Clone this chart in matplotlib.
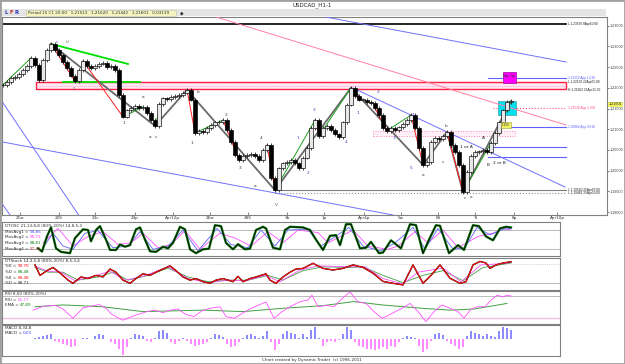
import matplotlib
matplotlib.use("Agg")
import matplotlib.pyplot as plt
import numpy as np
from matplotlib.patches import Rectangle

# ---------------- data ----------------
closes = [1.2207, 1.2214, 1.2224, 1.2226, 1.2233, 1.2243, 1.2253, 1.2272, 1.2255, 1.2219,
          1.2267, 1.2291, 1.2306, 1.2291, 1.2279, 1.2262, 1.2248, 1.2229, 1.2216, 1.2243,
          1.2265, 1.2253, 1.2248, 1.2253, 1.2258, 1.2260, 1.2250, 1.2253, 1.2243, 1.2183,
          1.2130, 1.2146, 1.2151, 1.2156, 1.2151, 1.2154, 1.2139, 1.2122, 1.2108, 1.2161,
          1.2175, 1.2173, 1.2178, 1.2180, 1.2183, 1.2188, 1.2195, 1.2171, 1.2091, 1.2096,
          1.2093, 1.2103, 1.2110, 1.2117, 1.2117, 1.2122, 1.2098, 1.2069, 1.2038, 1.2026,
          1.2035, 1.2038, 1.2040, 1.2035, 1.2026, 1.2050, 1.2062, 1.1982, 1.1953, 1.2006,
          1.2018, 1.2021, 1.2026, 1.2018, 1.2006, 1.2031, 1.2055, 1.2103, 1.2122, 1.2084,
          1.2103, 1.2108, 1.2098, 1.2088, 1.2081, 1.2117, 1.2159, 1.2200, 1.2180, 1.2171,
          1.2171, 1.2166, 1.2163, 1.2151, 1.2134, 1.2103, 1.2096, 1.2103, 1.2098, 1.2105,
          1.2113, 1.2122, 1.2134, 1.2103, 1.2055, 1.2014, 1.2021, 1.2069, 1.2079, 1.2076,
          1.2084, 1.2093, 1.2062, 1.2045, 1.2014, 1.1948, 1.1997, 1.2035, 1.2045, 1.2047,
          1.2050, 1.2045, 1.2067, 1.2091, 1.2117, 1.2146, 1.2166, 1.2168]

price_ticks = [1.190, 1.195, 1.200, 1.205, 1.210, 1.215, 1.220, 1.225, 1.230, 1.235]
last_price = 1.21601

date_pos = [4.25, 14, 23.1, 32.9, 42.4, 51.75, 61.25, 71, 80.25, 90.25, 99.4, 108.75, 118.1, 127.75, 138.5]
date_labels = ["21w", "22S", "23c", "24p", "Apr12p", "26w", "28S", "3b", "1p", "Apr4p", "5w", "6S", "7t", "8p", "Apr10p"]

# swing pivots (bar indices into closes)
zigzag_bars = [12, 38, 46, 68, 87, 105, 111, 115, 127]
red_swings = [(12, 18), (20, 30), (46, 48), (55, 59), (66, 68), (78, 79), (87, 89), (93, 96), (102, 105), (111, 115)]
green_swings = [(0, 7), (30, 35), (38, 40), (48, 55), (68, 78), (79, 87), (97, 102), (115, 122)]

# horizontal levels (price, start bar, label, colour, style)
levels = [
    (1.23530, 0.0, "L 1.23530 8Apr10:00", "black", "-"),
    (1.22240, 121.25, "1.22222 App 1.618", "#6060ff", "-"),
    (1.21510, 122.5, "1.21536 App 1.000", "#ff5080", ":"),
    (1.21050, 123.75, "1.20864 App 0.618", "#6060ff", "-"),
    (1.20580, 121.25, "", "#6060ff", "-"),
    (1.20330, 121.25, "", "#6060ff", "-"),
    (1.19530, 68.0, "L 1.19540 25Apr07:00", "#808080", "-"),
    (1.19460, 68.0, "L 1.19481 25Apr10:00", "#909090", ":"),
]
zone_lo, zone_hi = 1.21962, 1.22130
zone_labels = ["L 1.22130 22Apr05:00", "H 1.21962 21Apr11:00"]

# diagonal trend lines: (bar0, price0, bar1, price1, colour, width)
trend_lines = [
    (79.25, 1.23735, 140.75, 1.22624, "#7070ff", 0.7),
    (0.0, 1.20690, 97.5, 1.18929, "#7070ff", 0.7),
    (0.0, 1.21634, 19.25, 1.18880, "#7070ff", 0.7),
    (0.0, 1.19170, 1.75, 1.18929, "#7070ff", 0.7),
    (87.5, 1.21995, 140.5, 1.19605, "#7070ff", 0.7),
    (50.0, 1.23807, 140.75, 1.21102, "#ff80a0", 0.7),
    (12.0, 1.23060, 31.25, 1.22576, "#00e000", 1.3),
    (15.0, 1.22140, 34.25, 1.22140, "#00e000", 1.3),
]

wave_labels = [
    (13.5, 1.2311, "c", "#606060"), (16.25, 1.2311, "IV", "#909060"),
    (17.75, 1.2197, "1", "#606060"), (35.0, 1.2178, "a", "#404040"),
    (48.75, 1.2190, "b", "#404040"), (30.25, 1.2115, "1", "#404040"),
    (36.75, 1.2081, "a", "#404040"), (38.25, 1.2081, "c", "#404040"),
    (47.25, 1.2067, "1", "#404040"), (55.75, 1.2135, "2", "#404040"),
    (59.25, 1.2007, "3", "#404040"), (64.5, 1.2079, "4", "#404040"),
    (63.0, 1.1963, "a", "#404040"), (68.25, 1.1917, "V", "#606060"),
    (73.75, 1.2079, "1", "#4040c0"), (76.25, 1.1995, "2", "#4040c0"),
    (77.75, 1.2147, "3", "#4040c0"), (85.75, 1.2069, "4", "#4040c0"),
    (88.75, 1.2140, "1", "#4040c0"), (93.75, 1.2190, "2", "#4040c0"),
    (97.75, 1.2079, "3", "#4040c0"), (102.5, 1.2135, "4", "#4040c0"),
    (102.0, 1.2007, "5", "#4040c0"), (105.0, 1.1990, "a", "#404040"),
    (110.75, 1.2108, "b", "#404040"), (112.5, 1.2057, "b", "#404040"),
    (110.0, 1.2021, "c", "#404040"), (115.5, 1.1934, "c", "#404040"),
    (117.0, 1.1937, "e", "#404040"), (115.75, 1.2057, "1 or A", "#202020"),
    (120.0, 1.2079, "A", "#202020"), (121.25, 1.2014, "B", "#202020"),
    (124.0, 1.2019, "2 or B", "#202020"),
]

# DTOSC
osc_t = [8.75, 9.75, 11, 12, 13.25, 14.5, 16.75, 18, 20, 21.25, 22, 23.25, 24.25, 25.75, 26.75, 28.25, 29.25,
         30.5, 31.75, 33.25, 34.25, 35.5, 36.75, 38.25, 40, 41.25, 42.5, 44.25, 45.5, 46.75, 48.25, 50, 51.5,
         53, 54.5, 55.75, 57.5, 58.75, 60.5, 61.75, 63.25, 65, 65.75, 67.5, 69.25, 70.5, 71.75, 75, 76.75,
         78.25, 80, 81.75, 83.25, 84.25, 85.75, 87, 89.25, 90.75, 92, 94, 95, 97, 99.5, 101.75, 103.25, 105,
         106.5, 108.25, 109.25, 111.5, 113.75, 115.25, 117.5, 119, 120.75, 122.5, 124.25, 125.75, 127]
osc_fast = [23, 13, 60, 88, 23, 12, 8, 55, 82, 80, 45, 80, 92, 50, 18, 18, 35, 28, 33, 82, 88, 50, 14, 12, 28,
            23, 40, 90, 82, 20, 8, 20, 22, 95, 92, 40, 20, 36, 20, 22, 80, 90, 85, 25, 20, 80, 90, 88, 80, 50,
            18, 62, 64, 33, 98, 98, 23, 25, 43, 8, 10, 48, 23, 98, 95, 8, 50, 95, 93, 8, 33, 18, 95, 92, 60,
            48, 85, 90, 88]
osc_blue_t = [10, 12.5, 15, 17.5, 20.5, 23.75, 27.5, 31.25, 34.25, 37.5, 41.25, 45, 48.75, 53.5, 57, 61.25,
              64.5, 68, 71.25, 76.25, 79.5, 82.5, 86.5, 90, 94.5, 98, 102.5, 105.5, 108.75, 112.5, 115.5,
              118.5, 121.75, 125, 127]
osc_blue = [25, 70, 30, 20, 70, 78, 25, 30, 75, 20, 30, 80, 15, 85, 35, 25, 80, 30, 80, 82, 30, 55, 88, 30, 15,
            40, 88, 20, 85, 20, 25, 88, 65, 82, 85]
osc_mag_t = [10, 13.75, 17.5, 21.25, 25, 28.75, 32, 35, 38.75, 42, 45.5, 49.25, 54.25, 58, 62, 66.25, 70,
             73.75, 78.75, 81.25, 87.5, 91.25, 96.25, 98.75, 103, 106.25, 110, 113.75, 118.75, 122.5, 125, 127]
osc_mag = [40, 85, 30, 60, 75, 35, 40, 70, 25, 35, 78, 20, 70, 55, 30, 75, 40, 80, 72, 40, 80, 30, 20, 30, 75,
           40, 80, 25, 60, 70, 85, 80]

# DTStoch
sto_t = [8, 9.25, 11.25, 12.5, 14.5, 16.25, 17.5, 19.5, 21.25, 23.25, 25, 26.75, 28.25, 30, 31.75, 33.25, 35,
         36.75, 38.25, 40, 41.75, 43.25, 45, 46.75, 48.25, 50, 51.75, 53.25, 55, 57.5, 58.75, 60, 61.75, 63.25,
         65.75, 66.75, 68.25, 70, 71.75, 73.25, 75, 77.5, 80, 82.5, 85, 87.5, 90, 92.5, 95, 97.5, 100, 102.5,
         105, 107, 109.25, 111.75, 114.25, 115.75, 117.5, 119.25, 120.75, 121.75, 123.25, 125, 127]
sto_k = [78, 45, 62, 70, 50, 30, 20, 40, 35, 45, 40, 65, 55, 30, 20, 35, 50, 45, 55, 65, 75, 60, 40, 30, 35,
         25, 20, 30, 35, 25, 42, 25, 35, 40, 50, 30, 20, 40, 55, 65, 67, 83, 67, 62, 67, 78, 70, 52, 26, 20,
         15, 78, 20, 45, 78, 36, 20, 25, 78, 89, 84, 67, 78, 84, 88]
sto_slow_t = [8, 11.25, 15, 18.75, 23.75, 27.5, 31.25, 36.25, 41.25, 46.25, 51.25, 56.25, 61.25, 66.25, 70,
              75, 80, 86.25, 90, 95, 100, 105, 110, 115, 120, 125, 127]
sto_slow = [70, 55, 55, 30, 40, 55, 30, 45, 68, 40, 25, 30, 30, 45, 30, 60, 72, 70, 72, 45, 22, 45, 60, 28, 70,
            80, 84]
sto_mid_t = [8, 11.25, 14.5, 18, 22.5, 26.75, 30.5, 35, 41.25, 46.25, 51.25, 56.25, 60.75, 65.5, 69.25, 74.25,
             78.75, 86.25, 90.5, 95, 100, 103.75, 110, 114.5, 119.5, 125, 127]
sto_mid = [74, 58, 55, 28, 42, 58, 30, 42, 72, 35, 22, 30, 28, 45, 25, 62, 75, 72, 72, 35, 18, 55, 68, 25, 78,
           82, 86]

# RSI
rsi_t = [7.5, 10, 13, 15, 17.5, 20, 24, 26, 27, 29, 30, 33, 36, 38, 40, 41.75, 43.75, 45.75, 47.75, 49.75,
         51.75, 54.25, 55.75, 57.75, 59.75, 61.75, 63.75, 65.75, 67.75, 69.75, 71.75, 74.25, 76.25, 77.25,
         78.75, 80.75, 82.75, 84.75, 86.75, 88.75, 90.75, 92.75, 94.75, 97.25, 99.75, 101.75, 103.75, 105.75,
         107.75, 109.75, 111.75, 113.75, 115.25, 116.75, 118.5, 120.5, 122, 123.5, 125, 126, 127]
rsi_v = [42, 52, 55, 45, 20, 48, 57, 45, 32, 20, 15, 28, 38, 42, 35, 42, 45, 30, 25, 40, 47, 51, 25, 20, 33, 45,
         55, 64, 20, 38, 51, 65, 69, 82, 51, 55, 51, 73, 91, 64, 60, 38, 20, 33, 47, 60, 38, 11, 38, 56, 47, 38,
         20, 42, 51, 51, 69, 82, 78, 82, 80]
ema_t = [8, 15, 25, 35, 50, 60, 70, 80, 87.75, 94.75, 104.75, 111.75, 117.75, 126]
ema_v = [51, 56, 51, 38, 42, 38, 47, 54, 65, 56, 47, 42, 45, 60]

# MACD histogram (bars 7..127)
macd_start = 7
macd_hist = [0, 5, 8, 10, 12, 15, -5, -10, -15, -18, -25, -20, 0, 5, 3, 0, 10, 15, 12, 2,
             -8, -15, -30, -50, -25, 5, 15, 12, 10, -5, -8, 5, 25, 30, 20, -10, -15, -5, 5, -5,
             -15, -20, -18, -15, -8, 5, 15, 12, 8, -15, -25, -20, -8, 3, 12, 15, 10, 5, 10, 25,
             -10, -35, -15, 15, 25, 20, 15, 5, 15, 8, 30, 40, 5, -20, -8, -5, -10, -3, 15, 40,
             30, -10, -20, -25, -30, -30, -35, -30, -25, -30, -20, -25, -10, 5, 10, 8, 5, -20, -40, -30,
             -5, 15, 20, 12, -5, -15, -20, -30, -25, 10, 25, 20, 15, 10, 15, 10, 8, 25, 40, 35, 30]

# ---------------- figure ----------------
W, H = 625, 364
plt.rcParams["font.family"] = ["DejaVu Sans"]
fig = plt.figure(figsize=(W / 100, H / 100), dpi=100)
fig.patch.set_facecolor("white")
FS = 3.0
DARK = "#303030"
NARROW = ["Liberation Sans", "DejaVu Sans"]


def axes_px(x0, y0, x1, y1):
    return fig.add_axes([x0 / W, 1 - y1 / H, (x1 - x0) / W, (y1 - y0) / H])


def style_panel(a, color="#808080"):
    for s in a.spines.values():
        s.set_color(color)
        s.set_linewidth(0.8)
    a.set_xticks([])
    a.set_yticks([])


def label_pair(a, x, y, lab, val, col):
    t1 = a.text(x, y, lab, transform=a.transAxes, fontsize=FS, color=DARK, va="top", ha="left")
    a.annotate(val, xy=(1, 0), xycoords=t1, xytext=(0.6, 0), textcoords="offset points",
               fontsize=FS, color=col, va="bottom", ha="left")


# background gray frame
fig.add_artist(Rectangle((0, 0), 1, 1, transform=fig.transFigure, fill=False, ec="#a0a0a0", lw=2))
fig.text(312 / W, 1 - 5 / H, "USDCAD_H1-1", ha="center", va="center", fontsize=4.0, color="#202020")
# toolbar band
fig.add_artist(Rectangle((2 / W, 1 - 16 / H), 604 / W, 6.5 / H, transform=fig.transFigure,
                         fc="#e4e4e4", ec="none"))
for xx, ch, col in [(6, "L", "#3030c0"), (11, "F", "#c03030"), (17, "R", "#3030c0")]:
    fig.text(xx / W, 1 - 12.8 / H, ch, ha="center", va="center", fontsize=3.8, color=col, weight="bold")
fig.add_artist(Rectangle((26 / W, 1 - 15.5 / H), 150 / W, 5.5 / H, transform=fig.transFigure,
                         fc="#f4f4c0", ec="#c0c0a0", lw=0.4))
fig.text(28 / W, 1 - 12.8 / H, "Period 15 C1 20:00   1,21513   1,21620   1,21442   1,21601   0,03139",
         ha="left", va="center", fontsize=3.0, color=DARK)
fig.text(182 / W, 1 - 12.8 / H, "\u25c6", ha="center", va="center", fontsize=3.3, color=DARK)

# ---------------- main price panel ----------------
ax = axes_px(2, 17, 607, 215)
ax.set_xlim(-0.25, 151.0)
ax.set_ylim(1.18929, 1.23710)
ax.set_facecolor("white")
for s in ax.spines.values():
    s.set_color("#808080")
    s.set_linewidth(0.8)

c = np.array(closes)
o = np.r_[c[0], c[:-1]]
t = np.arange(len(c))

RFS = 2.3
# levels & zones (under candles)
for lvl, x0, lab, col, ls in levels:
    lw = 1.2 if col == "black" else 0.8
    ax.plot([x0, 140.75], [lvl, lvl], color=col, lw=lw, ls=ls, zorder=2)
    if lab:
        ax.text(141.3, lvl, lab, fontsize=RFS, family=NARROW,
                color=("#202020" if col in ("black", "#808080", "#909090") else col),
                va="center", ha="left")
ax.add_patch(Rectangle((8.25, zone_lo), 140.75 - 8.25, zone_hi - zone_lo, fc="#ffe8f4", ec="#ff2040",
                       lw=1.0, zorder=2))
ax.plot([8.25, 140.75], [(zone_lo + zone_hi) / 2] * 2, color="#ff80c0", lw=0.5, ls=":", zorder=2)
ax.text(141.3, zone_hi + 0.0001, zone_labels[0], fontsize=RFS, family=NARROW, color="#202020",
        va="center", ha="left")
ax.text(141.3, zone_lo - 0.0001, zone_labels[1], fontsize=RFS, family=NARROW, color="#202020",
        va="center", ha="left")
# small pink zone
ax.add_patch(Rectangle((92.5, 1.20837), 35.5, 1.2096 - 1.20837, fc="#fff0f8", ec="#ff80c0", lw=0.7,
                       ls=":", zorder=2))

# boxes
ax.add_patch(Rectangle((123.75, 1.21343), 4.5, 1.21681 - 1.21343, fc="#00e0f0", ec="#40a0a0", lw=0.5, zorder=2))
ax.add_patch(Rectangle((125, 1.22116), 3.25, 1.22382 - 1.22116, fc="#ff00ff", ec="#a000a0", lw=0.5, zorder=2))
ax.text(126.6, 1.2228, "Mgn Tgt", fontsize=2.2, color=DARK, ha="center", va="center", zorder=6)

for x0, p0, x1, p1, col, lw in trend_lines:
    ax.plot([x0, x1], [p0, p1], color=col, lw=lw, zorder=3)

# swing lines
ax.plot(zigzag_bars, c[zigzag_bars], color="#6a6a6a", lw=1.3, zorder=4)
for a_, b_ in red_swings:
    ax.plot([a_, b_], [c[a_], c[b_]], color="#ff2020", lw=0.7, zorder=4)
for a_, b_ in green_swings:
    ax.plot([a_, b_], [c[a_], c[b_]], color="#20a020", lw=0.7, zorder=4)

# candles
bot = np.minimum(o, c)
hgt = np.maximum(np.abs(c - o), 0.00008)
up = c >= o
ax.vlines(t, bot - 0.0004, bot + hgt + 0.0004, color="black", lw=0.5, zorder=5)
ax.bar(t, hgt, bottom=bot, width=0.8, color=np.where(up, "#e8e8e8", "black"), edgecolor="black",
       linewidth=0.45, zorder=5)

ax.add_patch(Rectangle((124.5, 1.21029), 2.5, 1.21174 - 1.21029, fc="#f0f060", ec="#a0a040", lw=0.4, zorder=6))
ax.text(125.75, 1.21101, "1.209", fontsize=2.0, color=DARK, ha="center", va="center", zorder=7)

for x_, p_, s_, col in wave_labels:
    ax.text(x_, p_, s_, fontsize=3.2, color=col, ha="center", va="center", zorder=7)

# axes ticks
ax.yaxis.tick_right()
ax.set_yticks(price_ticks)
ax.set_yticklabels(["%.5f" % v for v in price_ticks], fontsize=2.7, color="#404040", family=NARROW)
ax.tick_params(axis="y", length=1.2, width=0.5, pad=0.6, colors="#404040")
ax.set_xticks(date_pos)
ax.set_xticklabels(date_labels, fontsize=3.0, color=DARK)
ax.tick_params(axis="x", length=2, width=0.4, pad=0.8, direction="in", colors=DARK)
ax.text(151.45, last_price, "%.5f" % last_price, fontsize=2.7, color="#202020", ha="left", va="center",
        family=NARROW, bbox=dict(boxstyle="square,pad=0.12", fc="#f0f060", ec="none"), zorder=8, clip_on=False)

# ---------------- DTOSC ----------------
a1 = axes_px(2, 222, 560, 256)
a1.set_xlim(-0.25, 139.25)
a1.set_ylim(-0.8, 104.9)
style_panel(a1)
a1.axhline(80, color="#b0b0b0", lw=0.6)
a1.axhline(20, color="#b0b0b0", lw=0.6)
a1.plot(osc_mag_t, osc_mag, color="#ff50ff", lw=0.6)
a1.plot(osc_blue_t, osc_blue, color="#6060ff", lw=0.6)
a1.plot(osc_t, osc_fast, color="#108010", lw=1.7)
a1.plot(osc_t, osc_fast, color="black", lw=0.6)
a1.text(0.006, 0.95, "DTOSC 21,13,8,8 (80%-20%) 14,8,5,3", transform=a1.transAxes, fontsize=FS,
        color=DARK, va="top")
for i, (lab, val, col) in enumerate([("MovAvg1 =", "93,85", "#4040ff"), ("MovAvg2 =", "85,71", "#ff40ff"),
                                     ("MovAvg3 =", "88,81", "#108010"), ("MovAvg4 =", "87,42", "#c04040")]):
    label_pair(a1, 0.006, 0.77 - i * 0.165, lab, val, col)

# ---------------- DTStoch ----------------
a2 = axes_px(2, 258, 560, 290)
a2.set_xlim(-0.25, 139.25)
a2.set_ylim(-1.1, 99.8)
style_panel(a2)
a2.axhline(80, color="#b0b0b0", lw=0.5, ls=":")
a2.axhline(20, color="#b0b0b0", lw=0.6)
a2.plot(sto_slow_t, sto_slow, color="#40a040", lw=0.6)
a2.plot(sto_mid_t, sto_mid, color="#ff50ff", lw=0.6)
a2.plot(sto_t, sto_k, color="black", lw=1.0)
a2.plot(sto_t, sto_k, color="#ff1010", lw=0.8)
a2.text(0.006, 0.97, "DTStoch 14,3,5,8 (80%-20%) 8,5,3,4", transform=a2.transAxes, fontsize=FS,
        color=DARK, va="top")
for i, (lab, val, col) in enumerate([("%K =", "90,76", "#ff1010"), ("%D =", "88,48", "#108010"),
                                     ("%K =", "89,48", "#ff1010"), ("%D =", "88,71", DARK)]):
    label_pair(a2, 0.006, 0.80 - i * 0.175, lab, val, col)

# ---------------- RSI ----------------
a3 = axes_px(2, 291, 560, 324)
a3.set_xlim(-0.25, 139.25)
a3.set_ylim(4.7, 93.4)
style_panel(a3)
a3.axhline(80, color="#b0b0b0", lw=0.6)
a3.axhline(20, color="#f0c0e0", lw=1.0)
a3.plot(ema_t, ema_v, color="#40a040", lw=0.7)
a3.plot(rsi_t, rsi_v, color="#ff50ff", lw=0.6)
a3.text(0.006, 0.97, "RSI 8,50 (80%-20%)", transform=a3.transAxes, fontsize=FS, color=DARK, va="top")
label_pair(a3, 0.006, 0.80, "RSI =", "61,77", "#ff40ff")
label_pair(a3, 0.006, 0.63, "EMA =", "47,89", "#108010")

# ---------------- MACD ----------------
a4 = axes_px(2, 325, 560, 356)
a4.set_xlim(-0.25, 139.25)
a4.set_ylim(-53, 45)
style_panel(a4)
mt = np.arange(macd_start, macd_start + len(macd_hist))
mh = np.array(macd_hist)
a4.bar(mt, mh, width=0.55, color=np.where(mh >= 0, "#8c8cff", "#ff8cff"), linewidth=0)
a4.text(0.006, 0.97, "MACD 8,34,8", transform=a4.transAxes, fontsize=FS, color=DARK, va="top")
label_pair(a4, 0.006, 0.80, "MACD =", "0,00", "#4040ff")

fig.text(312 / W, 1 - 359.5 / H, "Chart created by Dynamic Trader  (c) 1996-2011", ha="center", va="center",
         fontsize=3.0, color=DARK)

fig.savefig("out.png", dpi=100, facecolor="white")
